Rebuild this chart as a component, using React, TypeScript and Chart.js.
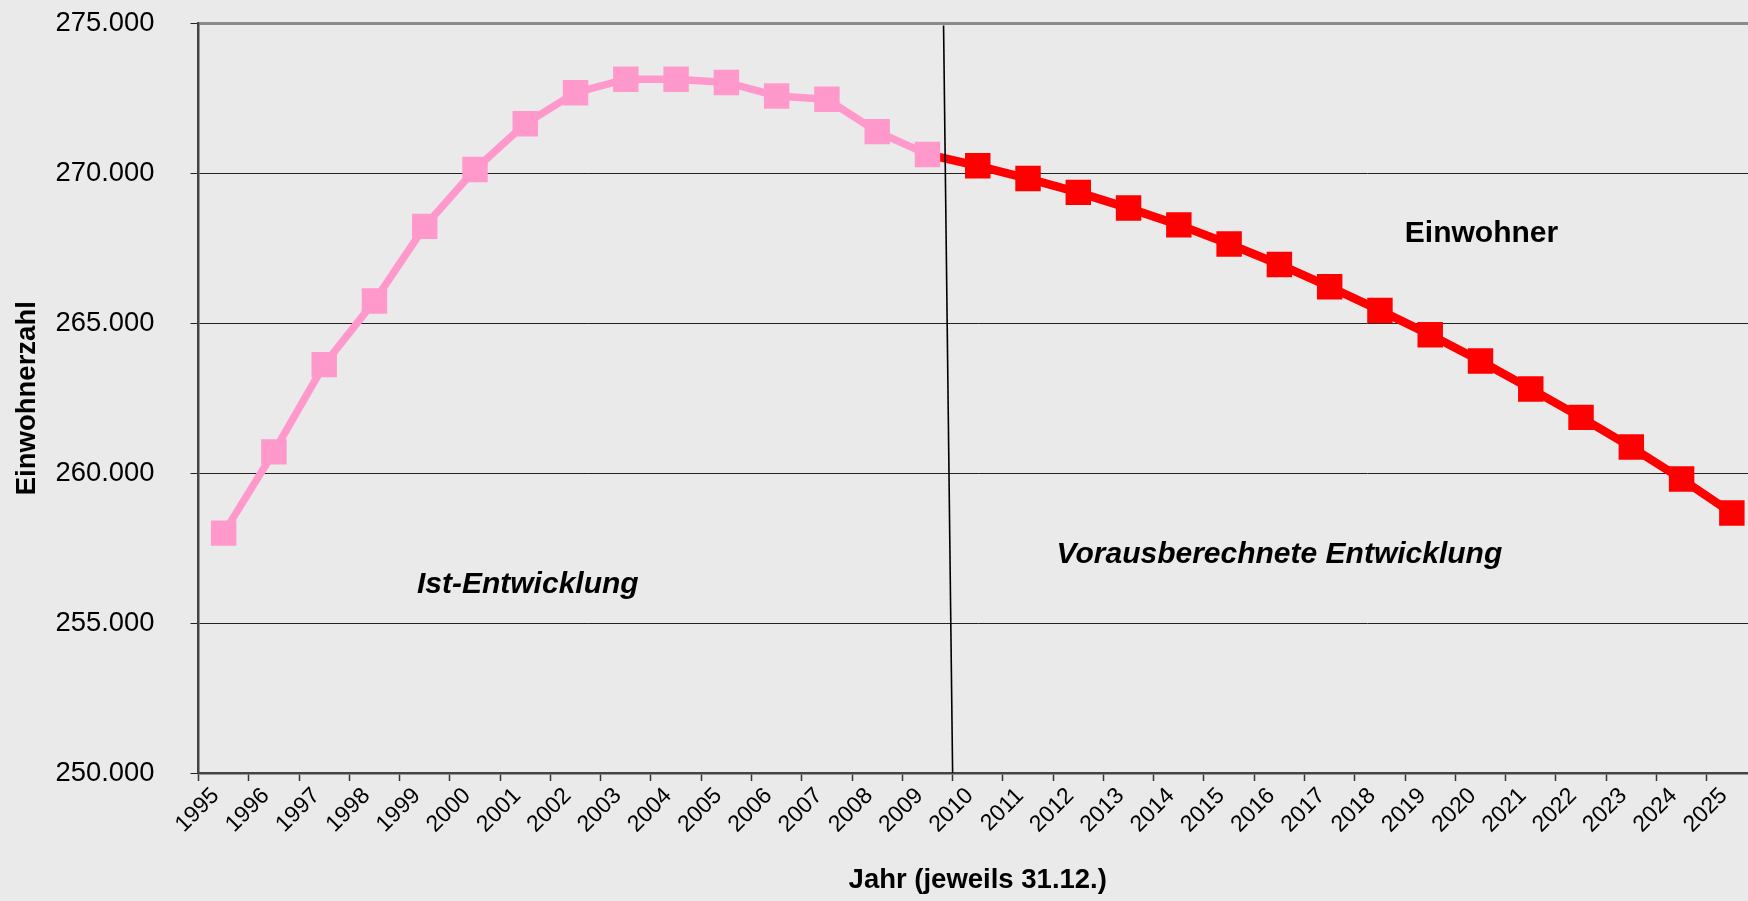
import React, { useEffect, useRef } from 'react';
import { Chart, registerables } from 'chart.js';

Chart.register(...registerables);

const years = [
  '1995', '1996', '1997', '1998', '1999', '2000', '2001', '2002', '2003', '2004',
  '2005', '2006', '2007', '2008', '2009', '2010', '2011', '2012', '2013', '2014',
  '2015', '2016', '2017', '2018', '2019', '2020', '2021', '2022', '2023', '2024', '2025',
];

// Ist-Entwicklung 1995–2009
const istValues = [
  258000, 260710, 263620, 265740, 268230, 270130, 271650, 272690, 273140, 273140,
  273030, 272580, 272470, 271390, 270630,
];

// Vorausberechnete Entwicklung 2010–2025
const prognoseValues = [
  270250, 269825, 269365, 268840, 268280, 267640, 266960, 266215, 265426, 264614,
  263740, 262810, 261860, 260870, 259804, 258670,
];

const yMin = 250000;
const yMax = 275000;
const yStep = 5000;

const annotations = [
  { text: 'Einwohner', index: 25.02, value: 267716, italic: false },
  { text: 'Ist-Entwicklung', index: 6.05, value: 256004, italic: true },
  { text: 'Vorausberechnete Entwicklung', index: 21.0, value: 257005, italic: true },
];

const FONT = '"Liberation Sans", Arial, Helvetica, sans-serif';

const fmt = (v: number) => String(Math.round(v)).replace(/\B(?=(\d{3})+(?!\d))/g, '.');

const overlayPlugin = {
  id: 'overlay',
  afterDatasetsDraw(chart: any) {
    const { ctx, scales } = chart;
    const x = scales.x;
    const y = scales.y;
    ctx.save();
    // divider line between Ist and Prognose
    ctx.strokeStyle = '#000000';
    ctx.lineWidth = 1.6;
    ctx.beginPath();
    ctx.moveTo(x.getPixelForValue(istValues.length - 0.68), y.getPixelForValue(yMax) + 2);
    ctx.lineTo(x.getPixelForValue(istValues.length - 0.5), y.getPixelForValue(yMin));
    ctx.stroke();
    // text annotations
    ctx.fillStyle = '#000000';
    ctx.textAlign = 'center';
    ctx.textBaseline = 'alphabetic';
    for (const a of annotations) {
      ctx.font = `${a.italic ? 'italic ' : ''}bold 30px ${FONT}`;
      ctx.fillText(a.text, x.getPixelForValue(a.index), y.getPixelForValue(a.value));
    }
    ctx.restore();
  },
};

export default function App() {
  const canvasRef = useRef<HTMLCanvasElement | null>(null);

  useEffect(() => {
    document.body.style.margin = '0';
    document.body.style.overflow = 'hidden';
    const canvas = canvasRef.current;
    if (!canvas) return;

    const istData = years.map((_, i) => (i < istValues.length ? istValues[i] : null));
    const progData = years.map((_, i) => {
      if (i === istValues.length - 1) return istValues[istValues.length - 1];
      if (i >= istValues.length) return prognoseValues[i - istValues.length];
      return null;
    });

    const chart = new Chart(canvas, {
      type: 'line',
      data: {
        labels: years,
        datasets: [
          {
            label: 'Ist',
            data: istData,
            borderColor: '#FF99CC',
            backgroundColor: '#FF99CC',
            borderWidth: 7.5,
            pointStyle: 'rect',
            pointRadius: 18,
            pointBorderWidth: 0,
            pointBackgroundColor: '#FF99CC',
            tension: 0,
            spanGaps: false,
          },
          {
            label: 'Prognose',
            data: progData,
            borderColor: '#FF0000',
            backgroundColor: '#FF0000',
            borderWidth: 8.5,
            pointStyle: 'rect',
            pointRadius: (c: any) => (c.dataIndex === istValues.length - 1 ? 0 : 18),
            pointBorderWidth: 0,
            pointBackgroundColor: '#FF0000',
            tension: 0,
            spanGaps: false,
          },
        ],
      },
      options: {
        responsive: false,
        animation: false,
        events: [],
        layout: { autoPadding: false, padding: { top: 23.4, left: 0, right: 0, bottom: 0 } },
        plugins: {
          legend: { display: false },
          tooltip: { enabled: false },
          title: { display: false },
        },
        scales: {
          x: {
            type: 'category',
            offset: true,
            grid: {
              offset: true,
              drawOnChartArea: false,
              drawTicks: true,
              tickLength: 8,
              tickColor: '#333333',
              tickWidth: 1.5,
            },
            border: { display: true, color: '#444444', width: 2.5 },
            ticks: {
              autoSkip: false,
              minRotation: 45,
              maxRotation: 45,
              padding: 1.5,
              labelOffset: -8,
              color: '#000000',
              font: { family: FONT, size: 23 },
            },
            title: {
              display: true,
              text: 'Jahr (jeweils 31.12.)',
              color: '#000000',
              font: { family: FONT, size: 27.5, weight: 'bold' },
              padding: { top: 0, bottom: 4.5 },
            },
            afterFit: (s: any) => {
              s.height = 128;
              s.paddingLeft = 0;
              s.paddingRight = 0;
            },
          },
          y: {
            type: 'linear',
            min: yMin,
            max: yMax,
            grid: {
              color: (c: any) => (c.tick && c.tick.value === yMax ? '#8a8a8a' : '#222222'),
              lineWidth: (c: any) => (c.tick && c.tick.value === yMax ? 3 : 1),
              tickLength: 8,
              tickColor: '#222222',
              tickWidth: 1,
              drawTicks: true,
            },
            border: { display: true, color: '#444444', width: 2.5 },
            ticks: {
              stepSize: yStep,
              padding: 36,
              color: '#000000',
              font: { family: FONT, size: 27.4 },
              callback: (v: any) => fmt(Number(v)),
            },
            title: {
              display: true,
              text: 'Einwohnerzahl',
              color: '#000000',
              font: { family: FONT, size: 27.5, weight: 'bold' },
              padding: { top: 10.5, bottom: 0 },
            },
            afterFit: (s: any) => {
              s.width = 198.5;
              s.paddingTop = 0;
              s.paddingBottom = 0;
            },
          },
        },
      },
      plugins: [overlayPlugin],
    });

    return () => chart.destroy();
  }, []);

  return (
    <div
      style={{
        position: 'absolute',
        left: 0,
        top: 0,
        width: 1748,
        height: 901,
        overflow: 'hidden',
        background: '#EAEAEA',
      }}
    >
      <canvas ref={canvasRef} width={1757} height={901} style={{ width: 1757, height: 901, display: 'block' }} />
    </div>
  );
}
